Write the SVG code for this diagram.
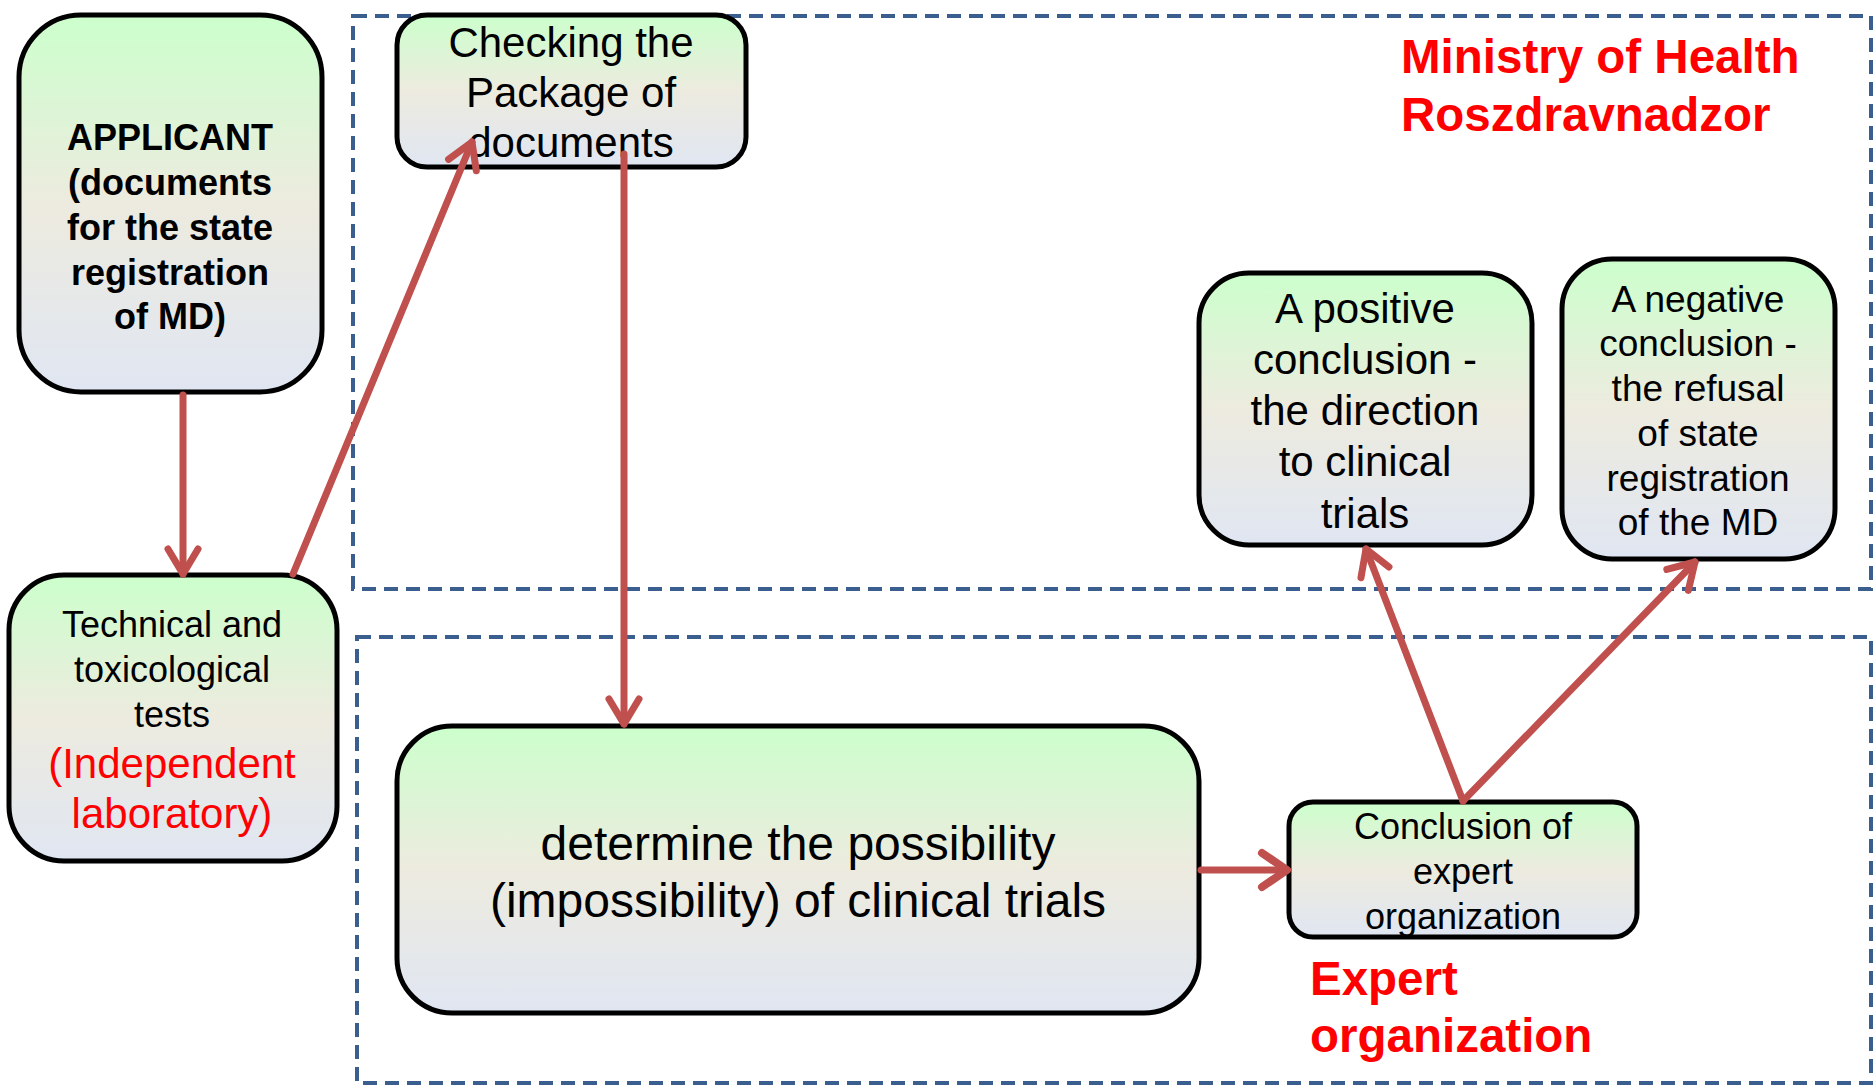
<svg xmlns="http://www.w3.org/2000/svg" width="1874" height="1086" viewBox="0 0 1874 1086">
<defs>
<linearGradient id="g" x1="0" y1="0" x2="0" y2="1">
<stop offset="0" stop-color="#CCFFCC"/>
<stop offset="0.5" stop-color="#EDEBDF"/>
<stop offset="1" stop-color="#E0E6F2"/>
</linearGradient>
<marker id="ah" markerUnits="userSpaceOnUse" viewBox="0 0 36 38" markerWidth="36" markerHeight="38" refX="30" refY="19" orient="auto">
<path d="M5,4 L30,19 L5,34" fill="none" stroke="#C0504D" stroke-width="7" stroke-linecap="round" stroke-linejoin="round"/>
</marker>
<marker id="ah2" markerUnits="userSpaceOnUse" viewBox="0 0 38 44" markerWidth="38" markerHeight="44" refX="32" refY="22" orient="auto">
<path d="M7,5 L32,22 L7,39" fill="none" stroke="#C0504D" stroke-width="8" stroke-linecap="round" stroke-linejoin="round"/>
</marker>
</defs>
<style>
.box{fill:url(#g);stroke:#000;stroke-width:5}
.zone{fill:none;stroke:#3A5F8F;stroke-width:4;stroke-dasharray:14 8}
.t{font-family:"Liberation Sans",Arial,sans-serif;fill:#000;text-anchor:middle}
.b{font-weight:bold}
.red{fill:#FF0000}
.lbl{font-family:"Liberation Sans",Arial,sans-serif;font-weight:bold;fill:#FF0000;font-size:47.5px}
.c{fill:none;stroke:#C0504D;stroke-width:7;stroke-linecap:round}
</style>
<rect width="1874" height="1086" fill="#fff"/>
<g id="zones">
<rect id="zone-ministry" class="zone" x="353" y="16" width="1518" height="573"/>
<rect id="zone-expert" class="zone" x="357" y="637" width="1514" height="446"/>
</g>
<g id="labels">
<text class="lbl" x="1401" y="73">Ministry of Health</text>
<text class="lbl" x="1401" y="131">Roszdravnadzor</text>
<text class="lbl" x="1310" y="995">Expert</text>
<text class="lbl" x="1310" y="1052">organization</text>
</g>
<g id="applicant">
<rect class="box" x="19" y="15" width="303" height="377" rx="62" ry="62"/>
<text class="t b" font-size="36"><tspan x="170" y="150">APPLICANT</tspan><tspan x="170" y="195">(documents</tspan><tspan x="170" y="240">for the state</tspan><tspan x="170" y="285">registration</tspan><tspan x="170" y="329">of MD)</tspan></text>
</g>
<g id="checking">
<rect class="box" x="397" y="15" width="349" height="152" rx="30" ry="30"/>
<text class="t" font-size="42"><tspan x="571" y="57">Checking the</tspan><tspan x="571" y="107">Package of</tspan><tspan x="571" y="157">documents</tspan></text>
</g>
<g id="technical">
<rect class="box" x="9" y="575" width="328" height="286" rx="55" ry="55"/>
<text class="t" font-size="36"><tspan x="172" y="637">Technical and</tspan><tspan x="172" y="682">toxicological</tspan><tspan x="172" y="727">tests</tspan></text>
<text class="t red" font-size="42"><tspan x="172" y="778">(Independent</tspan><tspan x="172" y="828">laboratory)</tspan></text>
</g>
<g id="determine">
<rect class="box" x="397" y="726" width="802" height="287" rx="55" ry="55"/>
<text class="t" font-size="48"><tspan x="798" y="860">determine the possibility</tspan><tspan x="798" y="917">(impossibility) of clinical trials</tspan></text>
</g>
<g id="conclusion">
<rect class="box" x="1289" y="802" width="348" height="135" rx="24" ry="24"/>
<text class="t" font-size="36"><tspan x="1463" y="839">Conclusion of</tspan><tspan x="1463" y="884">expert</tspan><tspan x="1463" y="929">organization</tspan></text>
</g>
<g id="positive">
<rect class="box" x="1199" y="273" width="333" height="272" rx="50" ry="50"/>
<text class="t" font-size="42"><tspan x="1365" y="323">A positive</tspan><tspan x="1365" y="374">conclusion -</tspan><tspan x="1365" y="425">the direction</tspan><tspan x="1365" y="476">to clinical</tspan><tspan x="1365" y="528">trials</tspan></text>
</g>
<g id="negative">
<rect class="box" x="1562" y="259" width="273" height="300" rx="50" ry="50"/>
<text class="t" font-size="37"><tspan x="1698" y="312">A negative</tspan><tspan x="1698" y="356">conclusion -</tspan><tspan x="1698" y="401">the refusal</tspan><tspan x="1698" y="446">of state</tspan><tspan x="1698" y="491">registration</tspan><tspan x="1698" y="535">of the MD</tspan></text>
</g>
<g id="connectors">
<line class="c" x1="183" y1="395" x2="183" y2="574" marker-end="url(#ah)"/>
<line class="c" x1="293" y1="574" x2="472" y2="142" marker-end="url(#ah)"/>
<line class="c" x1="624" y1="154" x2="624" y2="724" marker-end="url(#ah)"/>
<line class="c" x1="1201" y1="870" x2="1287" y2="870" stroke-width="9" marker-end="url(#ah2)"/>
<line class="c" x1="1463" y1="801" x2="1366" y2="549" marker-end="url(#ah)"/>
<line class="c" x1="1463" y1="801" x2="1695" y2="562" marker-end="url(#ah)"/>
</g>
</svg>
